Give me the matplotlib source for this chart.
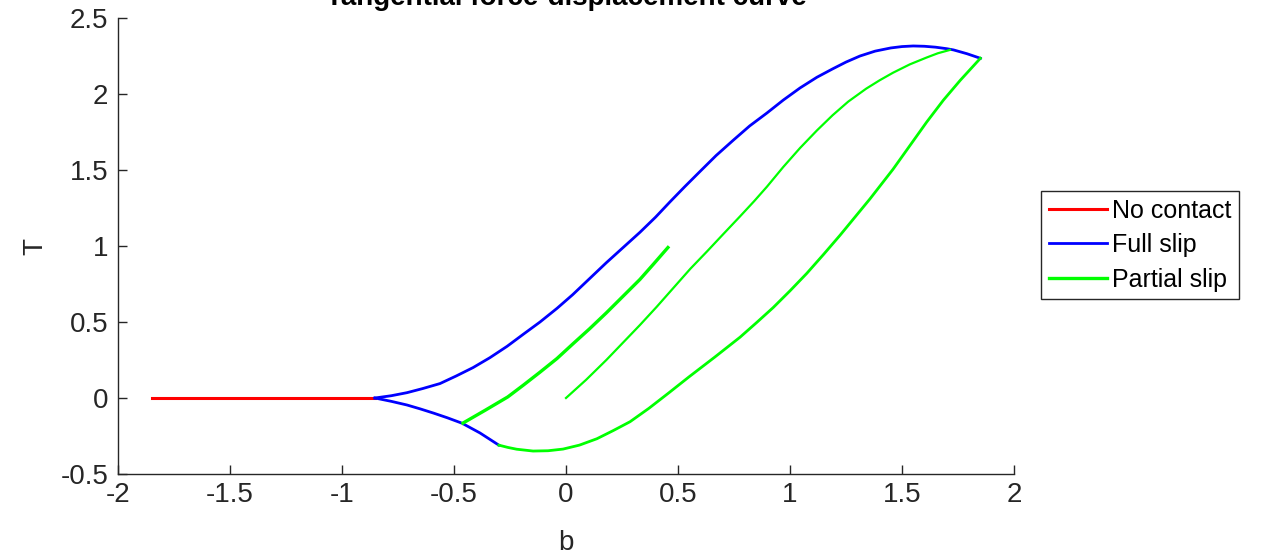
import matplotlib
matplotlib.use("Agg")
import matplotlib.pyplot as plt

plt.rcParams['font.family'] = ['Liberation Sans', 'DejaVu Sans']

# no contact branch
red_b = [-1.85, -0.853]
red_T = [0.0, 0.0]

# full slip, upper branch
blue_up_b = [-0.853, -0.78, -0.71, -0.64, -0.5625, -0.49, -0.415, -0.34, -0.263, -0.19,
             -0.116, -0.04, 0.03, 0.105, 0.18, 0.255, 0.33, 0.40, 0.464, 0.53,
             0.598, 0.67, 0.746, 0.82, 0.897, 0.97, 1.045, 1.12, 1.19, 1.25,
             1.3125, 1.38, 1.45, 1.50, 1.55, 1.60, 1.65, 1.70, 1.73, 1.79, 1.85]
blue_up_T = [0.0, 0.015, 0.035, 0.062, 0.095, 0.145, 0.20, 0.265, 0.34, 0.42,
             0.50, 0.59, 0.68, 0.785, 0.89, 0.99, 1.09, 1.19, 1.29, 1.39,
             1.49, 1.595, 1.695, 1.79, 1.875, 1.96, 2.04, 2.11, 2.165, 2.21,
             2.25, 2.282, 2.303, 2.312, 2.316, 2.314, 2.308, 2.298, 2.29, 2.265, 2.235]

# full slip, lower branch
blue_lo_b = [-0.853, -0.78, -0.71, -0.65, -0.59, -0.53, -0.464, -0.384, -0.30]
blue_lo_T = [0.0, -0.022, -0.046, -0.072, -0.10, -0.13, -0.166, -0.23, -0.31]

# partial slip branches
gA_b = [-0.46, -0.36, -0.26, -0.19, -0.116, -0.04, 0.03, 0.105, 0.18, 0.255, 0.33, 0.39, 0.455]
gA_T = [-0.165, -0.08, 0.007, 0.085, 0.17, 0.26, 0.355, 0.455, 0.56, 0.67, 0.78, 0.88, 0.99]

gB_b = [0.0, 0.09, 0.18, 0.255, 0.33, 0.405, 0.48, 0.555, 0.63, 0.70, 0.777, 0.84,
        0.897, 0.97, 1.045, 1.12, 1.19, 1.26, 1.34, 1.40, 1.46, 1.535, 1.61, 1.66, 1.714]
gB_T = [0.0, 0.12, 0.25, 0.365, 0.48, 0.60, 0.725, 0.85, 0.965, 1.075, 1.195, 1.295,
        1.39, 1.52, 1.645, 1.76, 1.86, 1.95, 2.035, 2.09, 2.14, 2.195, 2.24, 2.268, 2.29]

gC_b = [-0.30, -0.26, -0.22, -0.147, -0.08, -0.013, 0.06, 0.138, 0.21, 0.286, 0.37,
        0.46, 0.55, 0.665, 0.777, 0.85, 0.925, 1.0, 1.075, 1.15, 1.223, 1.29, 1.357,
        1.46, 1.535, 1.61, 1.685, 1.76, 1.85]
gC_T = [-0.31, -0.325, -0.337, -0.349, -0.347, -0.336, -0.31, -0.268, -0.215, -0.156, -0.068,
        0.035, 0.14, 0.27, 0.40, 0.495, 0.595, 0.705, 0.82, 0.945, 1.07, 1.19, 1.31,
        1.505, 1.66, 1.815, 1.96, 2.09, 2.235]

txt = '#262626'
fig = plt.figure(figsize=(12.68, 5.57), dpi=100)
ax = fig.add_axes([118/1268, 83/557, 896/1268, 456/557])

ax.plot(red_b, red_T, color=(1, 0, 0), lw=2.2, label='No contact')
ax.plot(blue_up_b, blue_up_T, color=(0, 0, 1), lw=2.0, label='Full slip')
ax.plot(blue_lo_b, blue_lo_T, color=(0, 0, 1), lw=2.0)
ax.plot(gA_b, gA_T, color=(0, 1, 0), lw=2.4, label='Partial slip')
ax.plot(gB_b, gB_T, color=(0, 1, 0), lw=1.6)
ax.plot(gC_b, gC_T, color=(0, 1, 0), lw=2.0)

ax.set_xlim(-2, 2)
ax.set_ylim(-0.5, 2.5)
ax.set_xticks([-2, -1.5, -1, -0.5, 0, 0.5, 1, 1.5, 2])
ax.set_xticklabels(['-2', '-1.5', '-1', '-0.5', '0', '0.5', '1', '1.5', '2'])
ax.set_yticks([-0.5, 0, 0.5, 1, 1.5, 2, 2.5])
ax.set_yticklabels(['-0.5', '0', '0.5', '1', '1.5', '2', '2.5'])
for s in ['top', 'right']:
    ax.spines[s].set_visible(False)
for s in ['left', 'bottom']:
    ax.spines[s].set_color(txt)
    ax.spines[s].set_linewidth(1.0)
ax.tick_params(direction='in', length=6.5, width=1.0, color=txt, labelcolor=txt,
               labelsize=20)
ax.tick_params(axis='x', pad=6)
ax.tick_params(axis='y', pad=7)

fig.text(566/1268, 1 - 543/557, 'b', fontsize=20, color=txt, ha='center', va='center')
fig.text(35/1268, 1 - 247/557, 'T', fontsize=20, color=txt, ha='center', va='center',
         rotation=90)
fig.text(566/1268, 1 - 5/557, 'Tangential force-displacement curve', fontsize=20,
         fontweight='bold', color='black', ha='center', va='baseline')

leg = ax.legend(loc='center left', bbox_to_anchor=(1041/1268, 1 - 245/557),
                bbox_transform=fig.transFigure, fontsize=18, frameon=True,
                fancybox=False, framealpha=1, edgecolor=txt, handlelength=2.35,
                handletextpad=0.2, labelspacing=0.42, borderpad=0.3,
                borderaxespad=0)
leg.get_frame().set_linewidth(1.0)

fig.savefig('out.png', dpi=100)
